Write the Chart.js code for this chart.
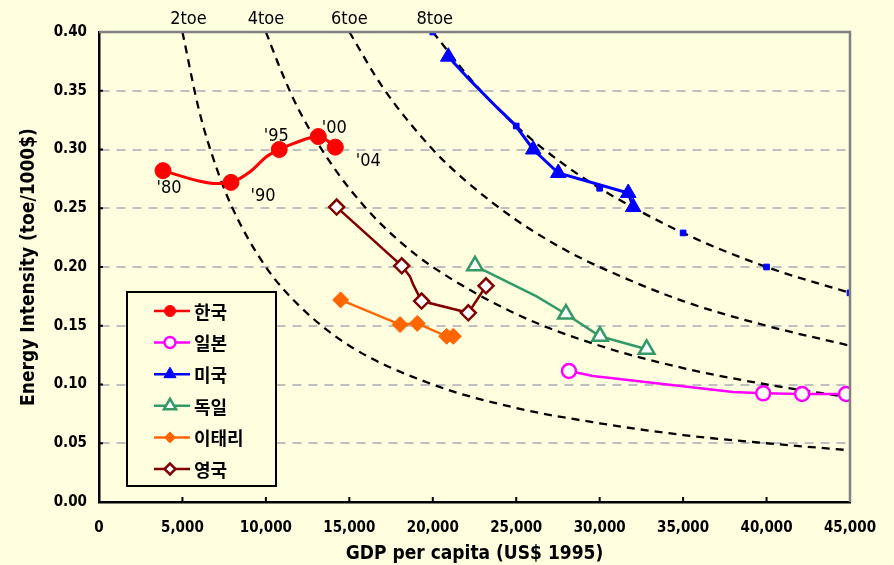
<!DOCTYPE html>
<html>
<head>
<meta charset="utf-8">
<script src="https://cdn.jsdelivr.net/npm/chart.js@4"></script>
<style>
  html, body { margin: 0; padding: 0; background: #FFFFE0; }
  #wrap { width: 894px; height: 565px; }
</style>
</head>
<body>
<div id="wrap"><canvas id="c" width="894" height="565"></canvas></div>
<script>
// 나라별 데이터 (GDP per capita, Energy Intensity)
var countryNames = ['한국', '일본', '미국', '독일', '이태리', '영국'];

var krGdp = [3835, 6050, 6950, 7910, 9050, 10050, 10800, 11640, 13140, 13640, 14160];
var krInt = [0.282, 0.273, 0.271, 0.272, 0.281, 0.294, 0.300, 0.305, 0.311, 0.308, 0.302];
var krYears = ["'80", null, null, "'90", null, null, "'95", null, "'00", null, "'04"];

var jpGdp = [28160, 29600, 37990, 39800, 42130, 44760];
var jpInt = [0.1115, 0.1072, 0.0936, 0.0925, 0.0919, 0.0919];
var jpMark = [1, 0, 0, 1, 1, 1];

var usGdp = [20930, 22230, 23830, 24930, 26020, 27520, 31710, 32010];
var usInt = [0.379, 0.359, 0.336, 0.321, 0.300, 0.280, 0.263, 0.251];
var usMark = [1, 0, 0, 0, 1, 1, 1, 1];

var deGdp = [22530, 26220, 27980, 30020, 32815];
var deInt = [0.201, 0.175, 0.160, 0.141, 0.130];
var deMark = [1, 0, 1, 1, 1];

var itGdp = [14480, 18040, 19070, 20830, 21230];
var itInt = [0.172, 0.151, 0.152, 0.141, 0.141];
var itMark = [1, 1, 1, 1, 1];

var ukGdp = [14240, 18140, 18630, 18830, 19330, 22130, 22830, 23190];
var ukInt = [0.251, 0.201, 0.192, 0.185, 0.171, 0.161, 0.176, 0.184];
var ukMark = [1, 1, 0, 0, 1, 1, 0, 1];

// 1인당 에너지소비 등량선
var isoLabels = ['2toe', '4toe', '6toe', '8toe'];
var iso2Gdp = [5000, 6000, 7000, 8000, 10000, 12000, 15000, 20000, 25000, 30000, 35000, 40000, 45000];
var iso2Int = [0.400, 0.333, 0.286, 0.250, 0.200, 0.167, 0.133, 0.100, 0.080, 0.067, 0.057, 0.050, 0.044];
var iso4Gdp = [10000, 11000, 12000, 14000, 16000, 18000, 20000, 25000, 30000, 35000, 40000, 45000];
var iso4Int = [0.400, 0.364, 0.333, 0.286, 0.250, 0.222, 0.200, 0.160, 0.133, 0.114, 0.100, 0.089];
var iso6Gdp = [15000, 17000, 20000, 22000, 25000, 28000, 30000, 35000, 40000, 45000];
var iso6Int = [0.400, 0.353, 0.300, 0.273, 0.240, 0.214, 0.200, 0.171, 0.150, 0.133];
var iso8Gdp = [20000, 22500, 25000, 27500, 30000, 35000, 40000, 45000];
var iso8Int = [0.400, 0.356, 0.320, 0.291, 0.267, 0.229, 0.200, 0.178];
var iso8Mark = [1, 0, 1, 0, 1, 1, 1, 1];

var FONT = "'Liberation Sans Narrow', 'DejaVu Sans Condensed', 'Noto Sans CJK KR', sans-serif";
var KFONT = "'Noto Sans CJK KR', sans-serif";

function pts(xs, ys) {
    var out = [];
    for (var i = 0; i < xs.length; i++) out.push({ x: xs[i], y: ys[i] });
    return out;
}
function radii(flags, r) {
    return flags.map(function (f) { return f ? r : 0; });
}

function country(label, xs, ys, flags, color, style, fill, r, bw, lw, smooth) {
    return {
        label: label,
        data: pts(xs, ys),
        showLine: true,
        borderColor: color,
        backgroundColor: fill,
        borderWidth: lw,
        pointBorderColor: color,
        pointBackgroundColor: fill,
        pointBorderWidth: bw,
        pointStyle: style,
        pointRadius: radii(flags, r),
        pointHoverRadius: radii(flags, r),
        cubicInterpolationMode: smooth ? 'monotone' : 'default',
        tension: 0
    };
}

function isoLine(xs, ys, flags) {
    return {
        label: 'iso',
        data: pts(xs, ys),
        showLine: true,
        borderColor: '#000000',
        borderWidth: 2.3,
        borderDash: [8, 6],
        pointStyle: 'rect',
        pointRadius: flags ? radii(flags, 4) : 0,
        pointBackgroundColor: '#0000FF',
        pointBorderColor: '#0000FF',
        pointBorderWidth: 1,
        cubicInterpolationMode: 'monotone'
    };
}

var datasets = [
    country('한국', krGdp, krInt, krYears, '#FF0000', 'circle', '#FF0000', 8, 1, 3, true),
    country('일본', jpGdp, jpInt, jpMark, '#FF00FF', 'circle', '#FFFFFF', 7, 2.5, 2.5, false),
    country('미국', usGdp, usInt, usMark, '#0000FF', 'triangle', '#0000FF', 9, 1, 3, false),
    country('독일', deGdp, deInt, deMark, '#339966', 'triangle', '#FFFFFF', 9, 2.5, 2.5, false),
    country('이태리', itGdp, itInt, itMark, '#FF6600', 'rectRot', '#FF6600', 8, 1, 2.5, false),
    country('영국', ukGdp, ukInt, ukMark, '#800000', 'rectRot', '#FFFFFF', 7.5, 2.5, 2.5, false),
    isoLine(iso2Gdp, iso2Int),
    isoLine(iso4Gdp, iso4Int),
    isoLine(iso6Gdp, iso6Int),
    isoLine(iso8Gdp, iso8Int, iso8Mark)
];

// 축, 테두리, 범례, 주석을 그리는 플러그인
var decorations = {
    id: 'decorations',
    beforeDraw: function (chart) {
        var ctx = chart.ctx;
        ctx.save();
        ctx.fillStyle = '#FFFFE0';
        ctx.fillRect(0, 0, chart.width, chart.height);
        ctx.restore();
    },
    afterDraw: function (chart) {
        var ctx = chart.ctx;
        var a = chart.chartArea;
        var xs = chart.scales.x, ys = chart.scales.y;
        ctx.save();

        // 위, 오른쪽 테두리
        ctx.strokeStyle = '#808080';
        ctx.lineWidth = 2.5;
        ctx.beginPath();
        ctx.moveTo(a.left, a.top);
        ctx.lineTo(a.right, a.top);
        ctx.lineTo(a.right, a.bottom);
        ctx.stroke();

        // 안쪽 눈금
        ctx.strokeStyle = '#000000';
        ctx.lineWidth = 2;
        ctx.beginPath();
        for (var v = 5000; v < 45000; v += 5000) {
            var px = xs.getPixelForValue(v);
            ctx.moveTo(px, a.bottom);
            ctx.lineTo(px, a.bottom - 5);
        }
        for (var t = 0.05; t < 0.399; t += 0.05) {
            var py = ys.getPixelForValue(t);
            ctx.moveTo(a.left, py);
            ctx.lineTo(a.left + 4, py);
        }
        ctx.stroke();

        // 등량선 라벨
        ctx.fillStyle = '#000000';
        ctx.font = '18px ' + FONT;
        ctx.textAlign = 'center';
        ctx.textBaseline = 'middle';
        var isoStarts = [iso2Gdp[0], iso4Gdp[0], iso6Gdp[0], iso8Gdp[0]];
        var isoShift = [6, 0, 0, 2];
        for (var i = 0; i < isoLabels.length; i++) {
            ctx.fillText(isoLabels[i], xs.getPixelForValue(isoStarts[i]) + isoShift[i], a.top - 13);
        }

        // 한국 연도 라벨
        var off = { "'80": [6, 18], "'90": [32, 14], "'95": [-3, -13], "'00": [16, -8], "'04": [33, 14] };
        ctx.font = '18px ' + FONT;
        for (var k = 0; k < krYears.length; k++) {
            if (!krYears[k]) continue;
            var o = off[krYears[k]];
            ctx.fillText(krYears[k], xs.getPixelForValue(krGdp[k]) + o[0], ys.getPixelForValue(krInt[k]) + o[1]);
        }

        // 범례
        var lx = 127, ly = 292, lw = 149, lh = 194;
        ctx.fillStyle = '#FFFFE0';
        ctx.fillRect(lx, ly, lw, lh);
        ctx.strokeStyle = '#000000';
        ctx.lineWidth = 2;
        ctx.strokeRect(lx, ly, lw, lh);
        for (var d = 0; d < countryNames.length; d++) {
            var ds = chart.data.datasets[d];
            var cy = ly + 19 + d * 31.6;
            ctx.strokeStyle = ds.borderColor;
            ctx.lineWidth = 2.5;
            ctx.beginPath();
            ctx.moveTo(lx + 27, cy);
            ctx.lineTo(lx + 63, cy);
            ctx.stroke();
            ctx.fillStyle = ds.pointBackgroundColor;
            ctx.lineWidth = ds.pointBorderWidth;
            Chart.helpers.drawPoint(ctx, {
                pointStyle: ds.pointStyle,
                radius: ds.pointStyle === 'triangle' ? 7 : 5.5,
                rotation: 0,
                borderWidth: ds.pointBorderWidth
            }, lx + 43, cy);
            ctx.fillStyle = '#000000';
            ctx.font = 'bold 18px ' + KFONT;
            ctx.textAlign = 'left';
            ctx.fillText(countryNames[d], lx + 67, cy + 1);
        }
        ctx.restore();
    }
};

var config = {
    type: 'scatter',
    data: { datasets: datasets },
    options: {
        responsive: false,
        animation: false,
        layout: { padding: { top: 32, right: 44, left: 0, bottom: 0 } },
        plugins: {
            legend: { display: false },
            tooltip: { enabled: false }
        },
        scales: {
            x: {
                type: 'linear',
                min: 0,
                max: 45000,
                ticks: {
                    stepSize: 5000,
                    padding: 17,
                    color: '#000000',
                    font: { family: FONT, size: 15, weight: 'bold' },
                    maxRotation: 0,
                    callback: function (v) { return v.toLocaleString('en-US'); }
                },
                grid: { display: false, drawTicks: false },
                border: { display: true, color: '#000000', width: 2.5 },
                title: {
                    display: true,
                    text: 'GDP per capita (US$ 1995)',
                    color: '#000000',
                    font: { family: FONT, size: 19, weight: 'bold' },
                    padding: { top: 0, bottom: 0 }
                },
                afterFit: function (s) { s.height = 63; }
            },
            y: {
                type: 'linear',
                min: 0,
                max: 0.4,
                ticks: {
                    stepSize: 0.05,
                    padding: 12,
                    color: '#000000',
                    font: { family: FONT, size: 15, weight: 'bold' },
                    callback: function (v) { return v.toFixed(2); }
                },
                grid: {
                    drawTicks: false,
                    lineWidth: 2,
                    color: function (c) {
                        var v = c.tick ? c.tick.value : 0;
                        return (v < 0.01 || v > 0.39) ? 'rgba(0,0,0,0)' : '#C0C0C0';
                    }
                },
                border: { display: true, color: '#000000', width: 2.5, dash: [9, 7] },
                title: {
                    display: true,
                    text: 'Energy Intensity (toe/1000$)',
                    color: '#000000',
                    font: { family: FONT, size: 19, weight: 'bold' },
                    padding: { top: 18, bottom: 0 }
                },
                afterFit: function (s) { s.width = 99; }
            }
        }
    },
    plugins: [decorations]
};

var myChart = new Chart(document.getElementById('c').getContext('2d'), config);
</script>
</body>
</html>
